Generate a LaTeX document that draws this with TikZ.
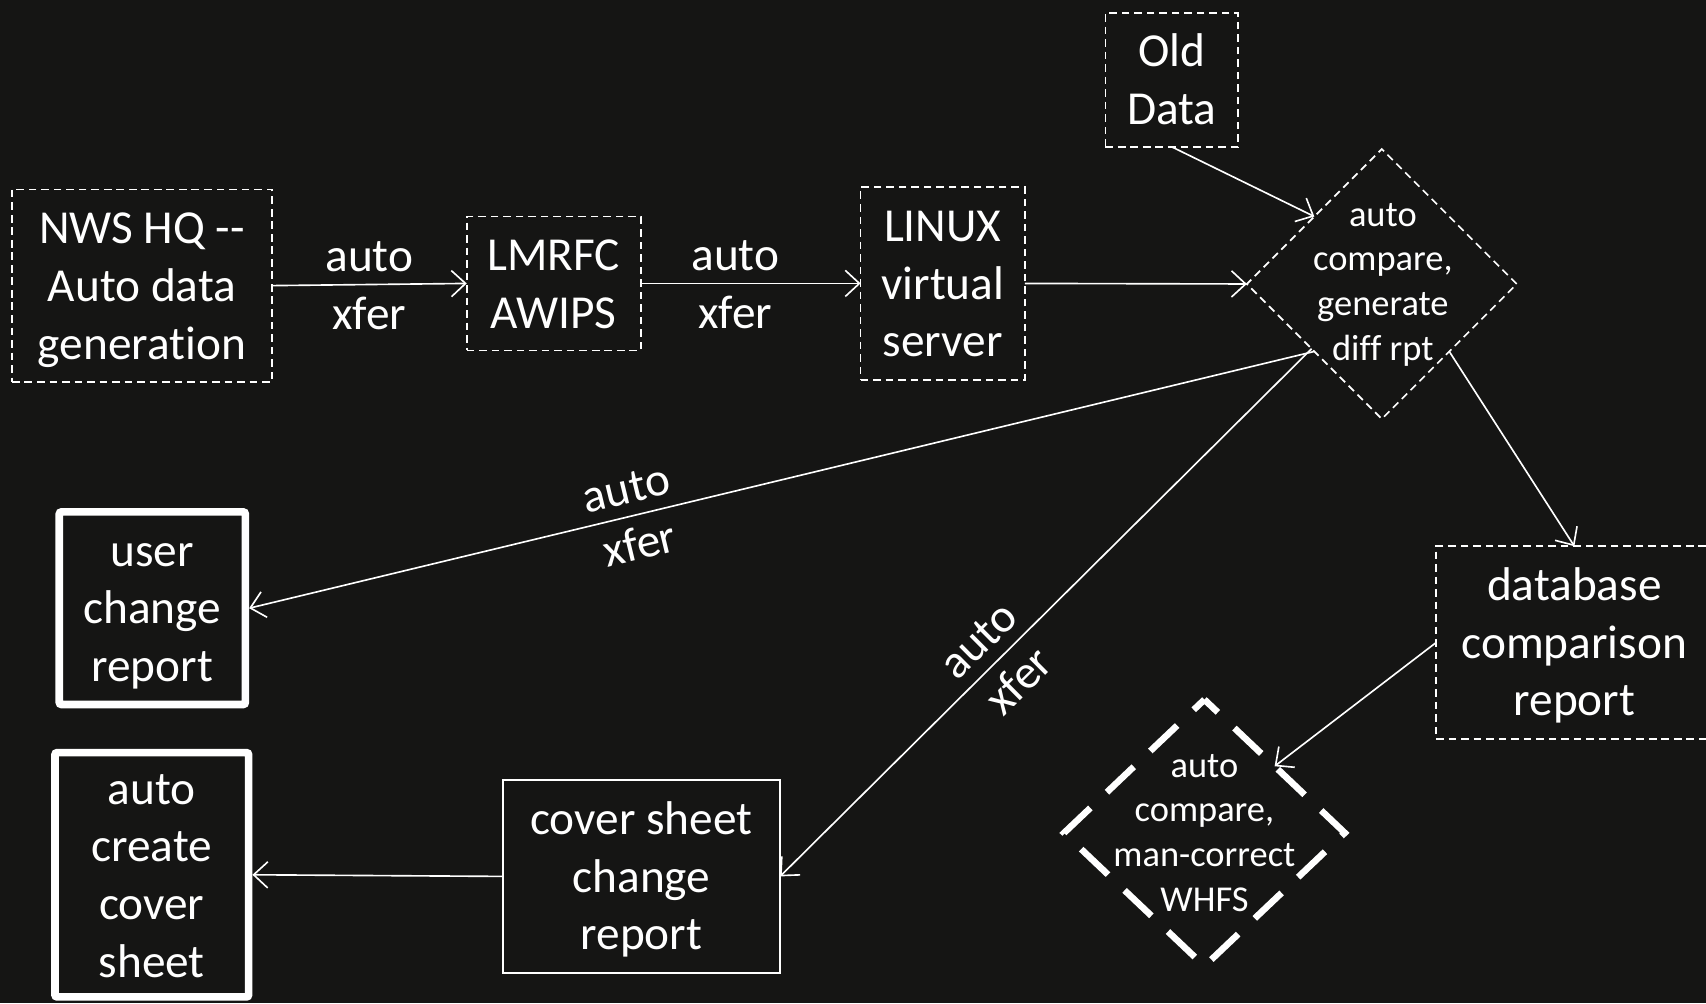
\documentclass[tikz,border=0pt]{standalone}
\usepackage{fontspec}
\setmainfont{Carlito}[Ligatures={NoCommon}]
\usetikzlibrary{shapes.geometric,arrows.meta,calc}
\definecolor{bg}{RGB}{21,21,20}
\newcommand\TopStrut{\rule{0pt}{40pt}}
\newcommand\BotStrut{\rule[-11pt]{0pt}{11pt}}
\begin{document}
\begin{tikzpicture}[x=1pt,y=-1pt,
  every node/.style={text=white, align=center, inner sep=0pt, outer sep=0pt},
  big/.style={font=\fontsize{43.5}{53}\selectfont},
  small/.style={font=\fontsize{33.5}{41}\selectfont},
  dbox/.style={draw=white, line width=1.5pt, dash pattern=on 7pt off 4.5pt, big},
  tbox/.style={draw=white, line width=7pt, rounded corners=2pt, outer sep=3.5pt, big},
  sbox/.style={draw=white, line width=1.6pt, big},
  conn/.style={draw=white, line width=1.5pt, -{Straight Barb[length=13pt,width=24pt]}},
  lbl/.style={big},
]
\fill[bg] (0,0) rectangle (1568,922);
\useasboundingbox (0,0) rectangle (1568,922);
\clip (0,0) rectangle (1568,922);

\node[dbox, minimum width=239pt, minimum height=177pt] (nws) at (130.5,262.5) {\TopStrut NWS HQ -{}-\\Auto data\\generation\BotStrut};
\node[dbox, minimum width=160pt, minimum height=123pt] (lmrfc) at (509,260.5) {\TopStrut LMRFC\\AWIPS\BotStrut};
\node[dbox, minimum width=151pt, minimum height=177pt] (linux) at (866.5,260.5) {\TopStrut LINUX\\virtual\\server\BotStrut};
\node[dbox, minimum width=122pt, minimum height=123pt] (old) at (1077,73.5) {\TopStrut Old\\Data\BotStrut};
\node[diamond, draw=white, line width=1.5pt, dash pattern=on 7pt off 4.5pt, minimum width=248pt, minimum height=248pt] (cmp) at (1270,261) {};
\node[small] (cmpt) at (1271,261.5) {auto\\compare,\\generate\\diff rpt};
\node[dbox, minimum width=254pt, minimum height=177pt] (db) at (1447,590.5) {\TopStrut database\\comparison\\report\BotStrut};
\node[diamond, minimum width=258pt, minimum height=245pt] (man) at (1107,765.5) {};
\draw[line width=6pt, white, dash pattern=on 34pt off 21pt, dash phase=17pt] (man.north) -- (man.east) -- (man.south) -- (man.west) -- cycle;
\node[small] (mant) at (1107,765.5) {auto\\compare,\\man-correct\\WHFS};
\node[tbox, minimum width=171pt, minimum height=177pt] (ucr) at (140,559) {\TopStrut user\\change\\report\BotStrut};
\node[tbox, minimum width=178pt, minimum height=224.5pt] (acs) at (139.5,804) {\TopStrut auto\\create\\cover\\sheet\BotStrut};
\node[sbox, minimum width=255pt, minimum height=177pt] (csr) at (589.5,805.5) {\TopStrut cover sheet\\change\\report\BotStrut};

\draw[conn] (nws.east) -- node[lbl, pos=0.5]{\TopStrut auto\\xfer\BotStrut} (lmrfc.west);
\draw[conn] (lmrfc.east) -- node[lbl, pos=0.43]{\TopStrut auto\\xfer\BotStrut} (linux.west);
\draw[conn] (linux.east) -- (cmp.west);
\draw[conn] (old.south) -- ($(cmp.north)!0.5!(cmp.west)$);
\draw[conn] ($(cmp.south)!0.5!(cmp.west)$) -- node[lbl, sloped, pos=0.64]{\TopStrut auto\\xfer\BotStrut} (ucr.east);
\draw[conn] ($(cmp.south)!0.52!(cmp.west)$) -- node[lbl, sloped, pos=0.59]{\TopStrut auto\\xfer\BotStrut} (csr.east);
\draw[conn] ($(cmp.south)!0.5!(cmp.east)$) -- (db.north);
\draw[conn] (db.west) -- ($(man.north)!0.5!(man.east)$);
\draw[conn] (csr.west) -- (acs.east);
\end{tikzpicture}
\end{document}
